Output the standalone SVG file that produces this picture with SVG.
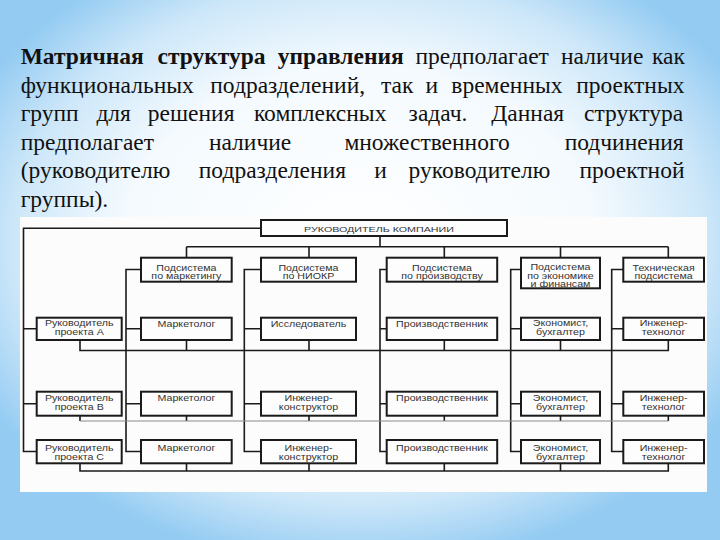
<svg xmlns="http://www.w3.org/2000/svg" width="720" height="540" viewBox="0 0 720 540">
<defs>
<radialGradient id="bg" cx="0.5" cy="0.45" r="0.6">
<stop offset="0" stop-color="#ffffff"/>
<stop offset="0.55" stop-color="#f4fafe"/>
<stop offset="0.8" stop-color="#cde7f9"/>
<stop offset="1" stop-color="#93cbf2"/>
</radialGradient>
</defs>
<style>
.box{fill:#fdfdfd;stroke:#1a1a1a;stroke-width:2}
.ln{fill:none;stroke:#1a1a1a;stroke-width:1.6}
.lt{fill:none;stroke:#8a8a8a;stroke-width:1}
</style>
<rect width="720" height="540" fill="url(#bg)"/>
<g id="paragraph" font-family="Times New Roman" font-size="23.5" fill="#111">
<text x="20.7" y="64" font-weight="bold">Матричная</text>
<text x="157.5" y="64" font-weight="bold">структура</text>
<text x="277.8" y="64" font-weight="bold">управления</text>
<text x="415.5" y="64">предполагает</text>
<text x="561" y="64">наличие</text>
<text x="652" y="64">как</text>
<text x="20.7" y="92.5">функциональных</text>
<text x="210.3" y="92.5">подразделений,</text>
<text x="381" y="92.5">так</text>
<text x="425.6" y="92.5">и</text>
<text x="451.3" y="92.5">временных</text>
<text x="576.2" y="92.5">проектных</text>
<text x="20.7" y="121">групп</text>
<text x="96.4" y="121">для</text>
<text x="147.8" y="121">решения</text>
<text x="253.9" y="121">комплексных</text>
<text x="408.6" y="121">задач.</text>
<text x="491.3" y="121">Данная</text>
<text x="584" y="121">структура</text>
<text x="20.7" y="149.5">предполагает</text>
<text x="208.9" y="149.5">наличие</text>
<text x="344.4" y="149.5">множественного</text>
<text x="564.7" y="149.5">подчинения</text>
<text x="20.7" y="178">(руководителю</text>
<text x="198.8" y="178">подразделения</text>
<text x="374.2" y="178">и</text>
<text x="408.6" y="178">руководителю</text>
<text x="579.4" y="178">проектной</text>
<text x="20.7" y="206.5">группы).</text>
</g>
<rect x="20" y="217" width="687" height="275" fill="#fcfcfc"/>
<g id="connectors">
<path class="ln" d="M261 228.3H23.5V451.5H36.7M23.5 328.8H36.7M23.5 403.7H36.7"/>
<path class="ln" d="M380 236V246.7M186.5 246.7H668.3M186.5 246.7V257.7M309 246.7V257.7M444.3 246.7V257.7M560.5 246.7V257.7M668.3 246.7V257.7"/>
<path class="ln" d="M141 269.5H126V451.5H141M126 328.8H141M126 403.7H141"/>
<path class="ln" d="M261 269.5H244.3V451.5H261M244.3 328.8H261M244.3 403.7H261"/>
<path class="ln" d="M386.7 269.5H380V451.5H386.7M380 328.8H386.7M380 403.7H386.7"/>
<path class="ln" d="M521 269.5H510.7V451.5H521M510.7 328.8H521M510.7 403.7H521"/>
<path class="ln" d="M623.3 269.5H611.7V451.5H623.3M611.7 328.8H623.3M611.7 403.7H623.3"/>
<path class="ln" d="M80 340V350.5H668.3V340M186.5 340V350.5M309 340V350.5M444.3 340V350.5M560.5 340V350.5"/>
<path class="ln" d="M80 415.7V421M186.5 415.7V421M309 415.7V421M444.3 415.7V421M560.5 415.7V421M668.3 415.7V421"/>
<path class="lt" d="M80 421H668.3"/>
<path class="ln" d="M80 463.3V471H668.3V463.3M186.5 463.3V471M309 463.3V471M444.3 463.3V471M560.5 463.3V471"/>
</g>
<g id="nodes" font-family="Liberation Sans" font-size="8.2" text-anchor="middle" fill="#333">
<g id="ceo"><rect class="box" x="261" y="220" width="246" height="16"/><text font-size="8" transform="translate(379 231.5) scale(1.34 1)">РУКОВОДИТЕЛЬ КОМПАНИИ</text></g>
<g id="sub-marketing"><rect class="box" x="141" y="257.7" width="90.7" height="24"/><text transform="translate(186.4 270.5) scale(1.3 1)">Подсистема</text><text transform="translate(186.4 278.8) scale(1.3 1)">по маркетингу</text></g>
<g id="sub-niokr"><rect class="box" x="261" y="257.7" width="95" height="24"/><text transform="translate(308.5 270.5) scale(1.3 1)">Подсистема</text><text transform="translate(308.5 278.8) scale(1.3 1)">по НИОКР</text></g>
<g id="sub-prod"><rect class="box" x="386.7" y="257.7" width="110.5" height="24"/><text transform="translate(442 270.5) scale(1.3 1)">Подсистема</text><text transform="translate(442 278.8) scale(1.3 1)">по производству</text></g>
<g id="sub-econ"><rect class="box" x="521" y="257.7" width="79" height="30.6"/><text transform="translate(560.5 270.3) scale(1.3 1)">Подсистема</text><text transform="translate(560.5 278.6) scale(1.3 1)">по экономике</text><text transform="translate(560.5 286.6) scale(1.3 1)">и финансам</text></g>
<g id="sub-tech"><rect class="box" x="623.3" y="257.7" width="80.7" height="24"/><text transform="translate(663.6 270.5) scale(1.3 1)">Техническая</text><text transform="translate(663.6 278.8) scale(1.3 1)">подсистема</text></g>
<g id="pm-a"><rect class="box" x="36.7" y="317.7" width="85" height="22.3"/><text transform="translate(79.2 326.3) scale(1.3 1)">Руководитель</text><text transform="translate(79.2 334.6) scale(1.3 1)">проекта А</text></g>
<g id="a-mkt"><rect class="box" x="141" y="317.7" width="90.7" height="22.3"/><text transform="translate(186.4 327) scale(1.3 1)">Маркетолог</text></g>
<g id="a-res"><rect class="box" x="261" y="317.7" width="95" height="22.3"/><text transform="translate(308.5 327) scale(1.3 1)">Исследователь</text></g>
<g id="a-prod"><rect class="box" x="386.7" y="317.7" width="110.5" height="22.3"/><text transform="translate(442 327) scale(1.3 1)">Производственник</text></g>
<g id="a-econ"><rect class="box" x="521" y="317.7" width="79" height="22.3"/><text transform="translate(560.5 326.3) scale(1.3 1)">Экономист,</text><text transform="translate(560.5 334.6) scale(1.3 1)">бухгалтер</text></g>
<g id="a-tech"><rect class="box" x="623.3" y="317.7" width="80.7" height="22.3"/><text transform="translate(663.6 326.3) scale(1.3 1)">Инженер-</text><text transform="translate(663.6 334.6) scale(1.3 1)">технолог</text></g>
<g id="pm-b"><rect class="box" x="36.7" y="391.7" width="85" height="24"/><text transform="translate(79.2 401) scale(1.3 1)">Руководитель</text><text transform="translate(79.2 409.5) scale(1.3 1)">проекта В</text></g>
<g id="b-mkt"><rect class="box" x="141" y="391.7" width="90.7" height="24"/><text transform="translate(186.4 401.3) scale(1.3 1)">Маркетолог</text></g>
<g id="b-eng"><rect class="box" x="261" y="391.7" width="95" height="24"/><text transform="translate(308.5 401) scale(1.3 1)">Инженер-</text><text transform="translate(308.5 409.5) scale(1.3 1)">конструктор</text></g>
<g id="b-prod"><rect class="box" x="386.7" y="391.7" width="110.5" height="24"/><text transform="translate(442 401.3) scale(1.3 1)">Производственник</text></g>
<g id="b-econ"><rect class="box" x="521" y="391.7" width="79" height="24"/><text transform="translate(560.5 401) scale(1.3 1)">Экономист,</text><text transform="translate(560.5 409.5) scale(1.3 1)">бухгалтер</text></g>
<g id="b-tech"><rect class="box" x="623.3" y="391.7" width="80.7" height="24"/><text transform="translate(663.6 401) scale(1.3 1)">Инженер-</text><text transform="translate(663.6 409.5) scale(1.3 1)">технолог</text></g>
<g id="pm-c"><rect class="box" x="36.7" y="440" width="85" height="23.3"/><text transform="translate(79.2 451) scale(1.3 1)">Руководитель</text><text transform="translate(79.2 459.5) scale(1.3 1)">проекта С</text></g>
<g id="c-mkt"><rect class="box" x="141" y="440" width="90.7" height="23.3"/><text transform="translate(186.4 451.3) scale(1.3 1)">Маркетолог</text></g>
<g id="c-eng"><rect class="box" x="261" y="440" width="95" height="23.3"/><text transform="translate(308.5 451) scale(1.3 1)">Инженер-</text><text transform="translate(308.5 459.5) scale(1.3 1)">конструктор</text></g>
<g id="c-prod"><rect class="box" x="386.7" y="440" width="110.5" height="23.3"/><text transform="translate(442 451.3) scale(1.3 1)">Производственник</text></g>
<g id="c-econ"><rect class="box" x="521" y="440" width="79" height="23.3"/><text transform="translate(560.5 451) scale(1.3 1)">Экономист,</text><text transform="translate(560.5 459.5) scale(1.3 1)">бухгалтер</text></g>
<g id="c-tech"><rect class="box" x="623.3" y="440" width="80.7" height="23.3"/><text transform="translate(663.6 451) scale(1.3 1)">Инженер-</text><text transform="translate(663.6 459.5) scale(1.3 1)">технолог</text></g>
</g>
</svg>
